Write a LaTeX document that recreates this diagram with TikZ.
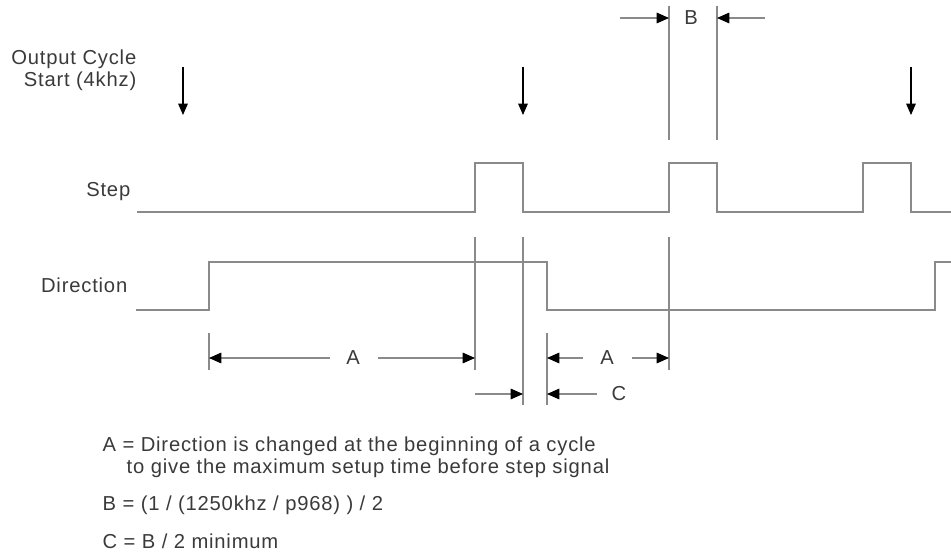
\documentclass[tikz,border=0pt]{standalone}
\usepackage{fontspec}
\setmainfont{Liberation Sans}[LetterSpace=4]
\usetikzlibrary{arrows.meta}

\definecolor{wgray}{HTML}{8A8A8A}
\definecolor{tgray}{HTML}{3A3A3A}

\begin{document}
\begin{tikzpicture}[x=0.02cm, y=-0.02cm, line width=0.8pt,
  wave/.style={draw=wgray},
  guide/.style={draw=wgray},
  dimarrow/.style={draw=wgray, -{Triangle[length=7pt, width=6pt, black]}},
  tick/.style={draw=black, line width=0.6pt, -{Triangle[length=6.5pt, width=5.5pt]}},
  lbl/.style={font=\fontsize{11.5}{13}\selectfont, text=tgray, inner sep=0pt}]
  \useasboundingbox (0,0) rectangle (951,557);

  % signal names
  \node[lbl, anchor=base east, align=right] (out) at (137,87) {Output Cycle\\Start (4khz)};
  \node[lbl, anchor=base east] (step) at (131,197) {Step};
  \node[lbl, anchor=base east] (dir) at (128,293) {Direction};

  % cycle start marks
  \coordinate (s1) at (183,67);  \coordinate (e1) at (183,115);
  \coordinate (s2) at (523,67);  \coordinate (e2) at (523,115);
  \coordinate (s3) at (911,67);  \coordinate (e3) at (911,115);
  \draw[tick] (s1) -- (e1);
  \draw[tick] (s2) -- (e2);
  \draw[tick] (s3) -- (e3);

  % step pulses
  \draw[wave] (137,212) -- (475,212) -- (475,163) -- (523,163) -- (523,212)
    -- (669,212) -- (669,163) -- (717,163) -- (717,212)
    -- (863,212) -- (863,163) -- (911,163) -- (911,212) -- (951,212);

  % direction level
  \draw[wave] (136,310) -- (209,310) -- (209,262) -- (547,262) -- (547,310)
    -- (935,310) -- (935,262) -- (951,262);

  % extension lines
  \draw[guide] (669,6) -- (669,140);
  \draw[guide] (717,6) -- (717,140);
  \draw[guide] (669,237) -- (669,370);
  \draw[guide] (475,237) -- (475,370);
  \draw[guide] (523,237) -- (523,405);
  \draw[guide] (547,333) -- (547,405);
  \draw[guide] (209,333) -- (209,370);

  % B
  \node[lbl] (lblB) at (691,18) {B};
  \coordinate (b1) at (620,18);  \coordinate (b2) at (669,18);
  \coordinate (b3) at (765,18);  \coordinate (b4) at (717,18);
  \draw[dimarrow] (b1) -- (b2);
  \draw[dimarrow] (b3) -- (b4);

  % A (left)
  \node[lbl] (lblA) at (353,358) {A};
  \coordinate (a1) at (330,358); \coordinate (a2) at (209,358);
  \coordinate (a3) at (378,358); \coordinate (a4) at (475,358);
  \draw[dimarrow] (a1) -- (a2);
  \draw[dimarrow] (a3) -- (a4);

  % A (right)
  \node[lbl] (lblAr) at (607,358) {A};
  \coordinate (ar1) at (583,358); \coordinate (ar2) at (547,358);
  \coordinate (ar3) at (632,358); \coordinate (ar4) at (669,358);
  \draw[dimarrow] (ar1) -- (ar2);
  \draw[dimarrow] (ar3) -- (ar4);

  % C
  \node[lbl] (lblC) at (619,394) {C};
  \coordinate (c1) at (475,394); \coordinate (c2) at (523,394);
  \coordinate (c3) at (597,394); \coordinate (c4) at (547,394);
  \draw[dimarrow] (c1) -- (c2);
  \draw[dimarrow] (c3) -- (c4);

  % notes
  \node[lbl, anchor=base west] (noteA) at (102,452) {A = Direction is changed at the beginning of a cycle};
  \node[lbl, anchor=base west] (noteA2) at (126,474) {to give the maximum setup time before step signal};
  \node[lbl, anchor=base west] (noteB) at (102,511) {B = (1 / (1250khz / p968) ) / 2};
  \node[lbl, anchor=base west] (noteC) at (102,548) {C = B / 2 minimum};
\end{tikzpicture}
\end{document}
